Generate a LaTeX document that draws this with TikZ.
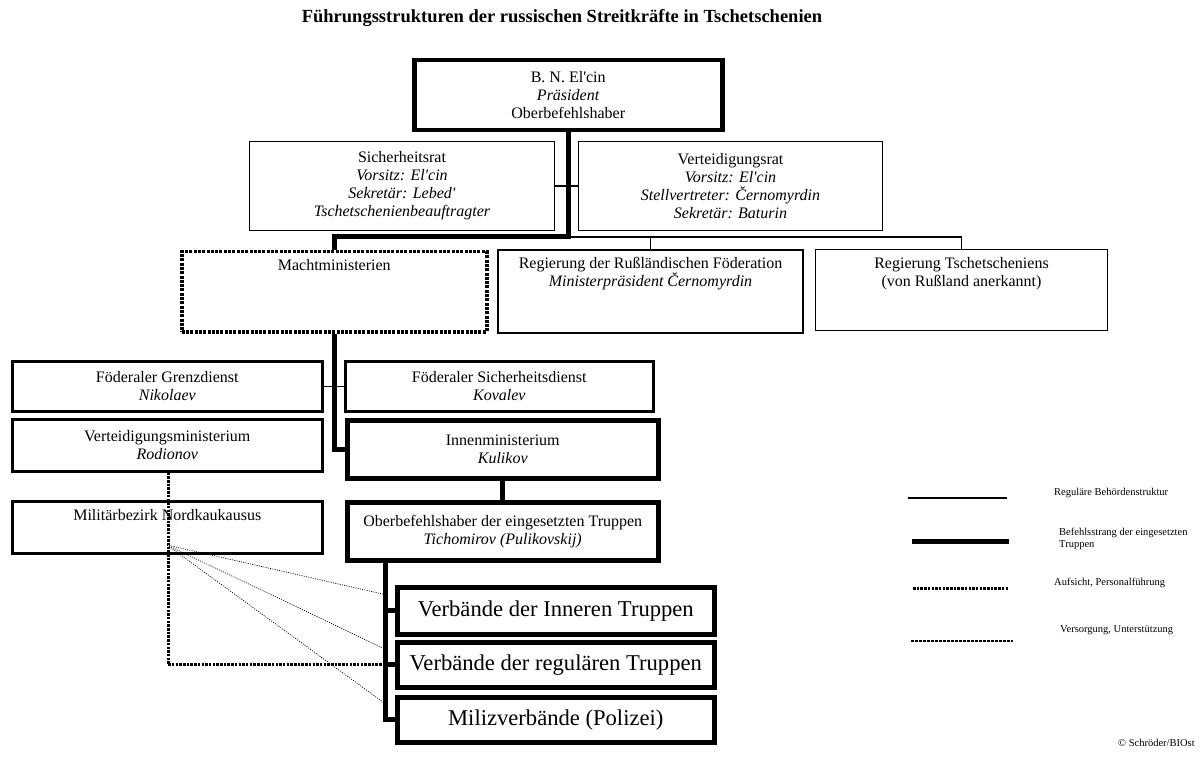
\documentclass[tikz,border=0pt]{standalone}
\usepackage{fontspec}
\setmainfont{Liberation Serif}[Ligatures=TeXOff]
\begin{document}
\begin{tikzpicture}[x=1pt,y=-1pt,
  box/.style={draw, inner sep=0pt, align=center, anchor=north west,
    font=\fontsize{16}{18}\selectfont},
  thinbox/.style={box, line width=1pt},
  midbox/.style={box, line width=2.6pt},
  heavybox/.style={box, line width=4.5pt},
  dotbox/.style={box, line width=3.5pt, dash pattern=on 3pt off 1.3pt},
  bigbox/.style={heavybox, font=\fontsize{22.6}{26}\selectfont},
  txt/.style={inner sep=0pt, align=center, font=\fontsize{16}{18}\selectfont},
  reg/.style={line width=1.3pt},
  cmd/.style={line width=5pt},
  superv/.style={line width=3pt, dash pattern=on 2.5pt off 1.2pt},
  supply/.style={line width=0.7pt, dash pattern=on 1pt off 1.3pt},
  legtxt/.style={inner sep=0pt, anchor=west, align=left, font=\fontsize{10.5}{12.5}\selectfont}]
\useasboundingbox (0,0) rectangle (1200,762);

% title
\node[inner sep=0pt, font=\bfseries\fontsize{18.5}{22}\selectfont] (title) at (562,18)
  {Führungsstrukturen der russischen Streitkräfte in Tschetschenien};

% boxes
\node[heavybox, minimum width=308pt, minimum height=70pt] (pres) at (412,58)
  {B. N. El'cin\\\textit{Präsident}\\Oberbefehlshaber};
\node[thinbox, minimum width=305pt, minimum height=89pt] (sich) at (249,141)
  {Sicherheitsrat\\\textit{Vorsitz: El'cin}\\\textit{Sekretär: Lebed'}\\\textit{Tschetschenienbeauftragter}};
\node[thinbox, minimum width=304pt, minimum height=89pt] (vert) at (578,141)
  {Verteidigungsrat\\\textit{Vorsitz: El'cin}\\\textit{Stellvertreter: Černomyrdin}\\\textit{Sekretär: Baturin}};

\node[dotbox, minimum width=305pt, minimum height=80pt] (macht) at (180,250) {};
\node[txt] (machtlbl) at ([yshift=-15pt]macht.north) {Machtministerien};
\node[box, line width=2pt, minimum width=305pt, minimum height=83pt] (rf) at (497,249) {};
\node[txt] (rflbl) at ([yshift=-25pt]rf.north) {Regierung der Rußländischen Föderation\\\textit{Ministerpräsident Černomyrdin}};
\node[thinbox, minimum width=292pt, minimum height=81pt] (tsch) at (815,249) {};
\node[txt] (tschlbl) at ([yshift=-25pt]tsch.north) {Regierung Tschetscheniens\\(von Rußland anerkannt)};

\node[midbox, minimum width=310pt, minimum height=50pt] (grenz) at (11,360)
  {Föderaler Grenzdienst\\\textit{Nikolaev}};
\node[midbox, minimum width=308pt, minimum height=50pt] (fsb) at (344,360)
  {Föderaler Sicherheitsdienst\\\textit{Kovalev}};
\node[midbox, minimum width=310pt, minimum height=52pt] (vm) at (11,418)
  {Verteidigungsministerium\\\textit{Rodionov}};
\node[heavybox, minimum width=311pt, minimum height=58pt] (innen) at (345,418)
  {Innenministerium\\\textit{Kulikov}};
\node[midbox, minimum width=310pt, minimum height=52pt] (mb) at (11,500) {};
\node[txt] (mblbl) at ([yshift=-15pt]mb.north) {Militärbezirk Nordkaukausus};
\node[heavybox, minimum width=311pt, minimum height=58pt] (ober) at (345,500)
  {Oberbefehlshaber der eingesetzten Truppen\\\textit{Tichomirov (Pulikovskij)}};

\node[bigbox, minimum width=317pt, minimum height=47pt] (vit) at (395,585) {Verbände der Inneren Truppen};
\node[bigbox, minimum width=317pt, minimum height=45pt] (vrt) at (395,640) {Verbände der regulären Truppen};
\node[bigbox, minimum width=317pt, minimum height=45pt] (miliz) at (395,695) {Milizverbände (Polizei)};

% junctions
\coordinate (j1) at (pres.south |- 0,237);
\coordinate (trunk) at ([xshift=40pt]ober.south west);
\coordinate (d0) at ([xshift=157pt]vm.south west);
\coordinate (mbp) at (167,545);

% supply lines (thin dotted)
\draw[supply] (mbp) -- ([xshift=-8pt,yshift=-10pt]vit.north west);
\draw[supply] (mbp) -- ([xshift=-8pt,yshift=-10pt]vrt.north west);
\draw[supply] (mbp) -- ([xshift=-8pt,yshift=-10pt]miliz.north west);

% supervision (dotted thick)
\draw[superv] (d0) |- (vrt.west);

% regular structure
\draw[reg] (sich.east) -- (vert.west);
\draw[reg] (j1) -| (rf.north);
\draw[reg] (j1) -| (tsch.north);
\draw[reg] (grenz.east) -- (fsb.west);

% command
\draw[cmd] (pres.south) -- (j1) -| (macht.north);
\draw[cmd] (macht.south) |- (innen.west);
\draw[cmd] (innen.south) -- (ober.north);
\draw[cmd] (trunk) |- (miliz.west);
\draw[cmd] (trunk |- vit.west) -- (vit.west);
\draw[cmd] (trunk |- vrt.west) -- (vrt.west);

% legend
\coordinate (la1) at (908,498); \coordinate (lb1) at (1007,498);
\coordinate (la2) at (912,541); \coordinate (lb2) at (1009,541);
\coordinate (la3) at (913,588); \coordinate (lb3) at (1008,588);
\coordinate (la4) at (911,641); \coordinate (lb4) at (1013,641);
\draw[reg] (la1) -- (lb1);
\draw[cmd] (la2) -- (lb2);
\draw[superv] (la3) -- (lb3);
\draw[line width=1.1pt, dash pattern=on 2.5pt off 1.5pt] (la4) -- (lb4);
\node[legtxt] (l1) at (1054,493) {Reguläre Behördenstruktur};
\node[legtxt] (l2) at (1059,539) {Befehlsstrang der eingesetzten\\Truppen};
\node[legtxt] (l3) at (1054,583) {Aufsicht, Personalführung};
\node[legtxt] (l4) at (1060,630) {Versorgung, Unterstützung};
\node[legtxt] (copy) at (1118,743) {© Schröder/BIOst};
\end{tikzpicture}
\end{document}
